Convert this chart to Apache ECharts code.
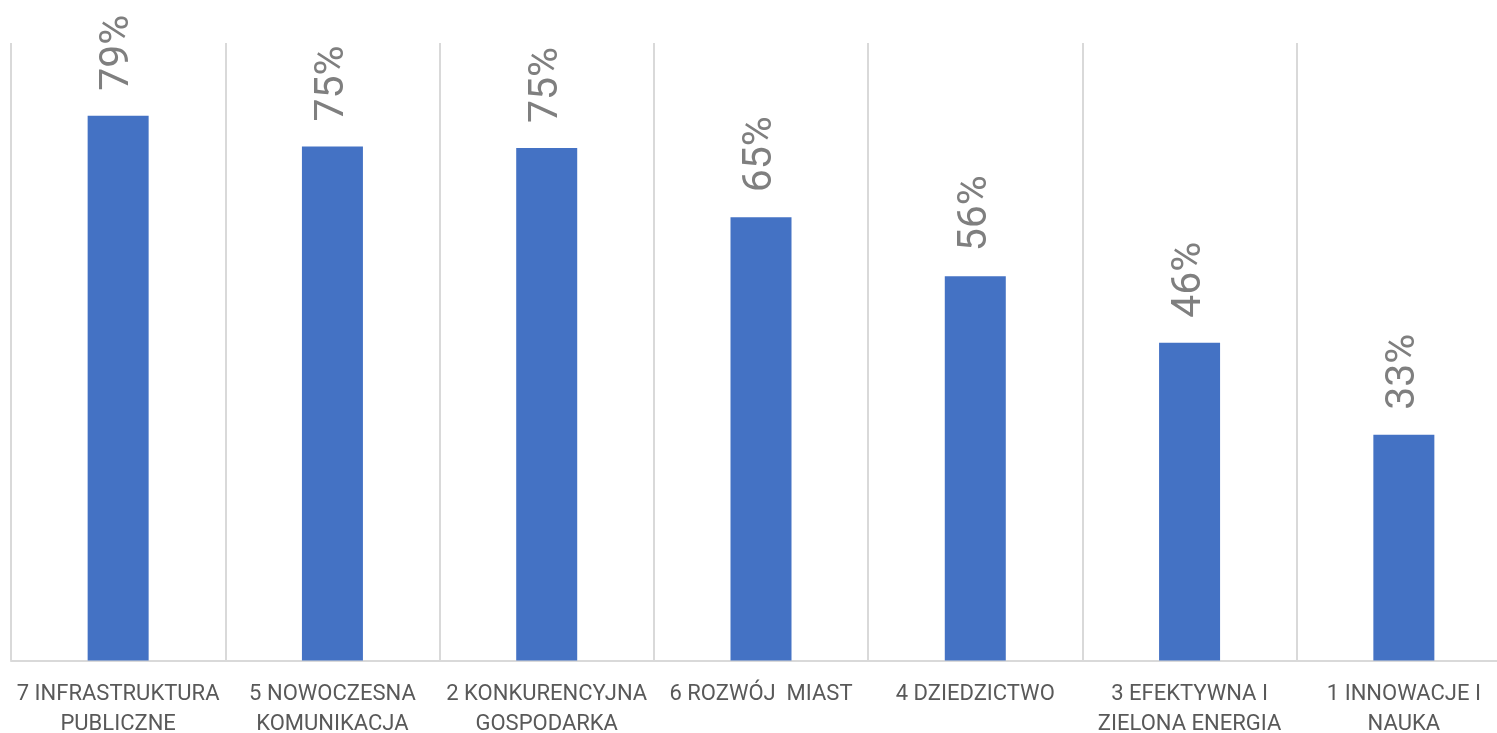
<!DOCTYPE html>
<html>
<head>
<meta charset="utf-8">
<script src="https://cdn.jsdelivr.net/npm/echarts@6/dist/echarts.min.js"></script>
<style>
html,body{margin:0;padding:0;background:#fff;overflow:hidden;}
#chart{width:1497px;height:733px;}
</style>
</head>
<body>
<div id="chart"></div>
<script>
const categories = [
  "7 INFRASTRUKTURA\nPUBLICZNE",
  "5 NOWOCZESNA\nKOMUNIKACJA",
  "2 KONKURENCYJNA\nGOSPODARKA",
  "6 ROZWÓJ  MIAST",
  "4 DZIEDZICTWO",
  "3 EFEKTYWNA I\nZIELONA ENERGIA",
  "1 INNOWACJE I\nNAUKA"
];
const values = [0.794, 0.749, 0.747, 0.646, 0.560, 0.463, 0.329];

const font = "Roboto, 'Open Sans', sans-serif";
const chart = echarts.init(document.getElementById('chart'));
chart.setOption({
  animation: false,
  grid: { left: 11, width: 1500, top: 43, bottom: 72.5, containLabel: false, outerBoundsMode: 'none' },
  xAxis: {
    type: 'category',
    data: categories,
    boundaryGap: true,
    axisLine: { show: true, lineStyle: { color: '#d9d9d9', width: 2 } },
    axisTick: { show: false },
    splitLine: { show: true, lineStyle: { color: '#d9d9d9', width: 2 } },
    axisLabel: {
      interval: 0,
      margin: 19,
      color: '#595959',
      fontFamily: font,
      fontSize: 22,
      lineHeight: 30
    }
  },
  yAxis: {
    type: 'value',
    min: 0,
    max: 0.9,
    show: false,
    splitLine: { show: false }
  },
  series: [{
    type: 'bar',
    data: values,
    barWidth: 61,
    itemStyle: { color: '#4472c4' },
    label: {
      show: true,
      position: 'top',
      distance: 25,
      rotate: 90,
      align: 'left',
      verticalAlign: 'middle',
      color: '#7f7f7f',
      fontFamily: font,
      fontSize: 41,
      formatter: p => Math.round(p.value * 100) + '%'
    }
  }]
});
</script>
</body>
</html>
